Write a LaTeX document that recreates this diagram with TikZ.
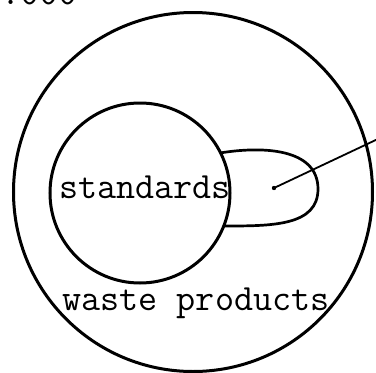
\documentclass[tikz,border=0pt]{standalone}
\usepackage{fontspec}
\begin{document}
\begin{tikzpicture}[x=1pt,y=-1pt,
  ring/.style={line width=3pt},
  lbl/.style={font=\fontsize{37}{42}\selectfont\ttfamily, inner sep=0pt, anchor=base}]
\useasboundingbox (0,0) rectangle (376,373);
\begin{scope}
\clip (0,0) rectangle (376,373);
\node[lbl, anchor=base west] (pg) at (-18,4) {1.000};
\node[circle, ring, draw, minimum size=359pt, inner sep=0pt] (outer) at (193,192) {};
\node[circle, ring, draw, minimum size=180pt, inner sep=0pt] (inner) at (140,193) {};
\draw[ring, line width=2.7pt] (220,153) .. controls (262,146) and (318,148) .. (318,189)
  .. controls (318,226) and (272,226) .. (224,226);
\coordinate (dot) at (274,188);
\coordinate (tip) at (380,138);
\fill (dot) circle (2.2pt);
\draw[line width=1.8pt] (dot) -- (tip);
\node[lbl] (std) at (145,198) {standards};
\node[lbl] (waste) at (196,310) {waste products};
\end{scope}
\end{tikzpicture}
\end{document}
